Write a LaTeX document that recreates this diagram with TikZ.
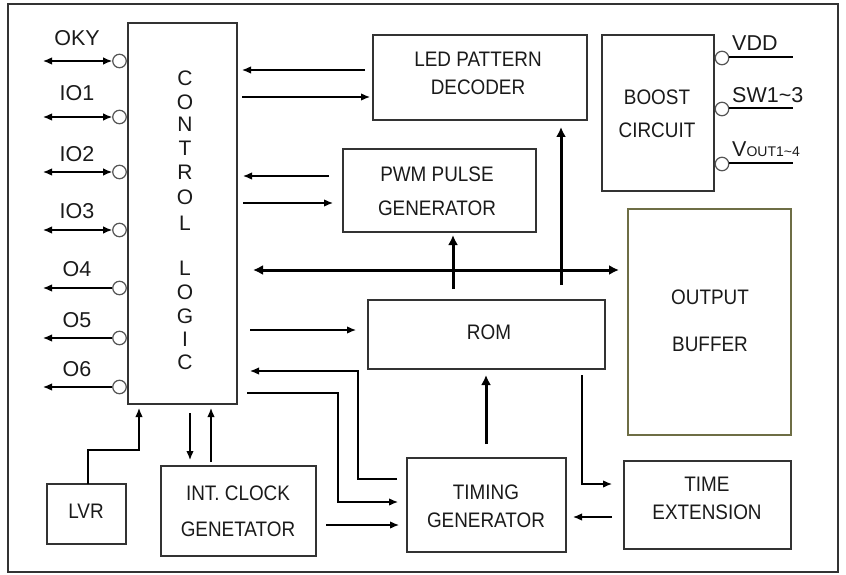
\documentclass[tikz,border=0pt]{standalone}
\usepackage{fontspec}
\setmainfont{Liberation Sans}
\newfontfamily\boxfont[FakeStretch=0.9]{Liberation Sans}
\usetikzlibrary{arrows.meta}
\definecolor{edge}{HTML}{333333}
\definecolor{bufedge}{HTML}{6E6E45}
\definecolor{pingray}{HTML}{555555}
\definecolor{txt}{HTML}{1A1A1A}
\begin{document}
\begin{tikzpicture}[x=1pt,y=-1pt,
  box/.style={draw=edge,line width=1.3pt,inner sep=0pt},
  lbl/.style={inner sep=0pt,text=txt,font=\boxfont\fontsize{21}{24}\selectfont},
  pinlbl/.style={inner sep=0pt,text=txt,font=\fontsize{21.5}{24}\selectfont},
  clet/.style={inner sep=0pt,text=txt,font=\fontsize{21}{24}\selectfont},
  pinc/.style={circle,draw=pingray,line width=1.2pt,minimum size=13.5pt,inner sep=0pt},
  thinl/.style={line width=1.3pt,draw=black},
  arr/.style={thinl,-{Latex[length=9pt,width=7.5pt]}},
  barr/.style={thinl,{Latex[length=9pt,width=7.5pt]}-{Latex[length=9pt,width=7.5pt]}},
  thickarr/.style={line width=3pt,-{Latex[length=10pt,width=10pt]}},
  thickbarr/.style={line width=3pt,{Latex[length=10pt,width=10pt]}-{Latex[length=10pt,width=10pt]}},
]
\useasboundingbox (0,0) rectangle (846,575);
\draw[draw=edge,line width=1.5pt] (8,4) rectangle (838,572);

% boxes
\node[box,minimum width=109pt,minimum height=381pt] (cl) at (182.5,213.5) {};
\node[box,minimum width=214pt,minimum height=85pt] (led) at (480,77.5) {};
\node[box,minimum width=193pt,minimum height=83pt] (pwm) at (439.5,190.5) {};
\node[box,minimum width=112pt,minimum height=156pt] (boost) at (658,113) {};
\node[box,draw=bufedge,minimum width=163pt,minimum height=226pt] (obuf) at (709.5,322) {};
\node[box,minimum width=237pt,minimum height=69pt] (rom) at (486.5,334.5) {};
\node[box,minimum width=159pt,minimum height=94pt] (tgen) at (486.5,505) {};
\node[box,minimum width=167pt,minimum height=88pt] (text) at (707.5,505) {};
\node[box,minimum width=155pt,minimum height=90pt] (clk) at (238.5,511) {};
\node[box,minimum width=79pt,minimum height=60pt] (lvr) at (86.5,514) {};

% box texts
\node[lbl] (ledt1) at (478,59) {LED PATTERN};
\node[lbl] (ledt2) at (478,87) {DECODER};
\node[lbl] (pwmt1) at (437,174) {PWM PULSE};
\node[lbl] (pwmt2) at (437,208) {GENERATOR};
\node[lbl] (boostt1) at (657,97) {BOOST};
\node[lbl] (boostt2) at (657,130) {CIRCUIT};
\node[lbl] (obuft1) at (710,297) {OUTPUT};
\node[lbl] (obuft2) at (710,344) {BUFFER};
\node[lbl] (romt) at (489,332) {ROM};
\node[lbl] (tgent1) at (486,492) {TIMING};
\node[lbl] (tgent2) at (486,520) {GENERATOR};
\node[lbl] (textt1) at (707,484) {TIME};
\node[lbl] (textt2) at (707,512) {EXTENSION};
\node[lbl] (clkt1) at (238,493) {INT. CLOCK};
\node[lbl] (clkt2) at (238,529) {GENETATOR};
\node[lbl] (lvrt) at (86,511) {LVR};

% control logic letters
\foreach \l/\y [count=\i] in {C/78,O/102,N/124,T/148,R/172,O/197,L/223,L/268,O/292,G/316,I/339,C/362}
  \node[clet] (cll\i) at (185,\y) {\l};

% left pins
\foreach \n/\y/\ly/\t in {oky/61/38/OKY,ioa/117/93.5/IO1,iob/172/154.5/IO2,ioc/230/211/IO3}{
  \node[pinc] (c\n) at (119.5,\y) {};
  \coordinate (e\n) at (43,\y);
  \draw[barr] (e\n) -- (c\n.west);
  \node[pinlbl] (l\n) at (77,\ly) {\t};
}
\foreach \n/\y/\ly/\t in {oa/288/269/O4,ob/338/320/O5,oc/387/369.5/O6}{
  \node[pinc] (c\n) at (119.5,\y) {};
  \coordinate (e\n) at (43,\y);
  \draw[arr] (c\n.west) -- (e\n);
  \node[pinlbl] (l\n) at (77,\ly) {\t};
}

% right pins
\foreach \n/\y in {vdd/58,sw/109,vout/164}{
  \node[pinc] (c\n) at (722,\y) {};
  \coordinate (e\n) at (793,\y-1);
  \draw[thinl] (c\n.east |- e\n) -- (e\n);
}
\node[pinlbl,anchor=west] (lvdd) at (732,43.5) {VDD};
\node[pinlbl,anchor=west] (lsw) at (732,95) {SW1\textasciitilde 3};
\node[pinlbl,anchor=west] (lvout) at (732,149.5) {V{\fontsize{14}{14}\selectfont OUT1\textasciitilde 4}};

% named coordinates for connectors
\coordinate (ledA) at (365,70);  \coordinate (clA) at (242,70);
\coordinate (clB) at (242,97);   \coordinate (ledB) at (370,97);
\coordinate (pwmA) at (329,176); \coordinate (clC) at (243,176);
\coordinate (clD) at (243,203);  \coordinate (pwmB) at (333,203);
\coordinate (busL) at (253,270); \coordinate (busR) at (619,270);
\coordinate (romP) at (453,289); \coordinate (pwmC) at (453,235);
\coordinate (romL) at (561,285); \coordinate (ledC) at (561,127);
\coordinate (clE) at (250,330);  \coordinate (romA) at (356,330);
\coordinate (tgA) at (397,479);  \coordinate (clF) at (250,371);
\coordinate (clG) at (247,393);  \coordinate (tgB) at (398,502);
\coordinate (clkA) at (326,525); \coordinate (tgC) at (399,525);
\coordinate (tgD) at (486,444);  \coordinate (romB) at (486,375);
\coordinate (romC) at (582,375); \coordinate (teA) at (612,484);
\coordinate (teB) at (612,517);  \coordinate (tgE) at (573,517);
\coordinate (lvrA) at (88,484);  \coordinate (clH) at (139,408);
\coordinate (clI) at (190,413);  \coordinate (clkB) at (190,460);
\coordinate (clkC) at (211,462); \coordinate (clJ) at (211,408);

% connectors
\draw[arr] (ledA) -- (clA);
\draw[arr] (clB) -- (ledB);
\draw[arr] (pwmA) -- (clC);
\draw[arr] (clD) -- (pwmB);
\draw[thickbarr] (busL) -- (busR);
\draw[thickarr] (romP) -- (pwmC);
\draw[thickarr] (romL) -- (ledC);
\draw[arr] (clE) -- (romA);
\draw[arr] (tgA) -- (358,479) -- (358,371) -- (clF);
\draw[arr] (clG) -- (338,393) -- (338,502) -- (tgB);
\draw[arr] (clkA) -- (tgC);
\draw[thickarr] (tgD) -- (romB);
\draw[arr] (romC) -- (582,484) -- (teA);
\draw[arr] (teB) -- (tgE);
\draw[arr] (lvrA) -- (88,450) -- (139,450) -- (clH);
\draw[arr] (clI) -- (clkB);
\draw[arr] (clkC) -- (clJ);
\end{tikzpicture}
\end{document}
